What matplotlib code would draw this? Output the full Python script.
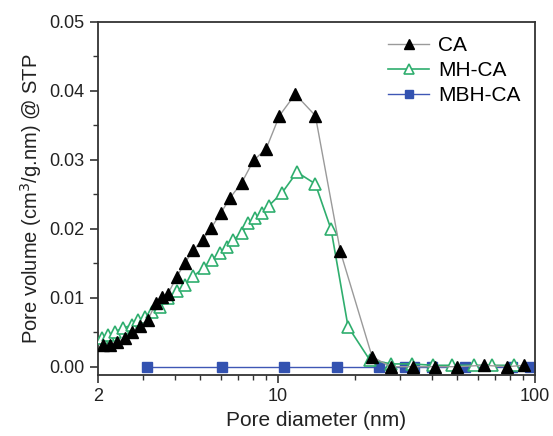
import matplotlib
matplotlib.use("Agg")
import matplotlib.pyplot as plt
from matplotlib.ticker import MultipleLocator, FixedLocator, NullFormatter, LogLocator

# CA data
ca_x = [2.10, 2.23, 2.37, 2.55, 2.71, 2.92, 3.13, 3.37, 3.55, 3.75, 4.05, 4.37, 4.70,
        5.12, 5.51, 6.02, 6.54, 7.26, 8.06, 9.03, 10.17, 11.71, 14.02, 17.54, 23.3,
        27.5, 33.5, 41.0, 50.0, 63.4, 78.0, 90.9]
ca_y = [0.00315, 0.00315, 0.00363, 0.00413, 0.00509, 0.0059, 0.0068, 0.0093, 0.0101,
        0.0106, 0.0130, 0.0151, 0.0169, 0.0184, 0.0201, 0.0223, 0.0245, 0.0267, 0.0299,
        0.0316, 0.0364, 0.0395, 0.0364, 0.0167, 0.00145,
        0.0, 0.0, 0.0, 0.0, 0.0002, 0.0, 0.0002]

# MH-CA data
mh_x = [2.07, 2.19, 2.33, 2.51, 2.71, 2.87, 3.05, 3.24, 3.49, 3.76, 4.05, 4.37, 4.70,
        5.15, 5.55, 5.98, 6.35, 6.73, 7.26, 7.70, 8.18, 8.69, 9.22, 10.40, 11.89,
        14.02, 16.14, 18.79, 22.8, 27.7, 33.2, 40.3, 47.5, 58.0, 68.4, 83.1]
mh_y = [0.00413, 0.00461, 0.00509, 0.00558, 0.00606, 0.00679, 0.00727, 0.0080, 0.00872,
        0.00994, 0.0109, 0.0119, 0.0131, 0.0143, 0.0155, 0.0165, 0.0174, 0.0184, 0.0194,
        0.0208, 0.0216, 0.0223, 0.0233, 0.0252, 0.0282, 0.0265, 0.0199, 0.0058, 0.0010,
        0.0004, 0.0004, 0.0002, 0.0002, 0.0002, 0.0002, 0.0002]

# MBH-CA data
mbh_x = [3.10, 6.07, 10.55, 17.08, 24.9, 31.4, 33.9, 39.7, 53.4, 81.4, 96.0]
mbh_y = [0.0, 0.0, 0.0, 0.0, 0.0, 0.0, 0.0, 0.0, 0.0, 0.0, 0.0]

plt.rcParams['font.family'] = ['Liberation Sans', 'DejaVu Sans']

fig = plt.figure(figsize=(5.53, 4.36), dpi=100)
ax = fig.add_axes([0.177, 0.140, 0.790, 0.810])

ax.plot(mbh_x, mbh_y, '-', color='#3f57b5', lw=1.0, marker='s', ms=6.5,
        mfc='#3352b0', mec='#3352b0', label='MBH-CA', zorder=2)
ax.plot(mh_x, mh_y, '-', color='#2fae6e', lw=1.2, marker='^', ms=9,
        mfc='white', mec='#2fae6e', mew=1.2, label='MH-CA', zorder=3)
ax.plot(ca_x, ca_y, '-', color='#9a9a9a', lw=1.0, marker='^', ms=9,
        mfc='black', mec='black', label='CA', zorder=4)

ax.set_xscale('log')
ax.set_xlim(2, 100)
ax.set_ylim(-0.0012, 0.05)

ax.xaxis.set_major_locator(FixedLocator([2, 10, 100]))
ax.xaxis.set_major_formatter(matplotlib.ticker.FixedFormatter(['2', '10', '100']))
ax.xaxis.set_minor_locator(LogLocator(base=10, subs=range(2, 10)))
ax.xaxis.set_minor_formatter(NullFormatter())
ax.yaxis.set_major_locator(MultipleLocator(0.01))
ax.yaxis.set_minor_locator(MultipleLocator(0.005))
ax.yaxis.set_major_formatter(matplotlib.ticker.FormatStrFormatter('%.2f'))

for s in ax.spines.values():
    s.set_color('#333333')
    s.set_linewidth(1.3)
ax.tick_params(which='major', direction='out', length=6, width=1.2, color='#333333',
               labelsize=13, labelcolor='#222222', top=False, right=False)
ax.tick_params(which='minor', direction='out', length=3.5, width=1.0, color='#333333',
               top=False, right=False)

ax.set_xlabel('Pore diameter (nm)', fontsize=15, color='#222222', labelpad=4)
ax.set_ylabel('Pore volume (cm$^3$/g.nm) @ STP', fontsize=14.5, color='#222222', labelpad=4)

handles, labels = ax.get_legend_handles_labels()
order = [2, 1, 0]
ax.legend([handles[i] for i in order], [labels[i] for i in order], loc='upper right',
          frameon=False, fontsize=15, handlelength=2.0, handletextpad=0.4,
          labelspacing=0.28, bbox_to_anchor=(1.0, 1.0), borderaxespad=0.3,
          markerscale=0.85)

fig.savefig('out.png', dpi=100)
